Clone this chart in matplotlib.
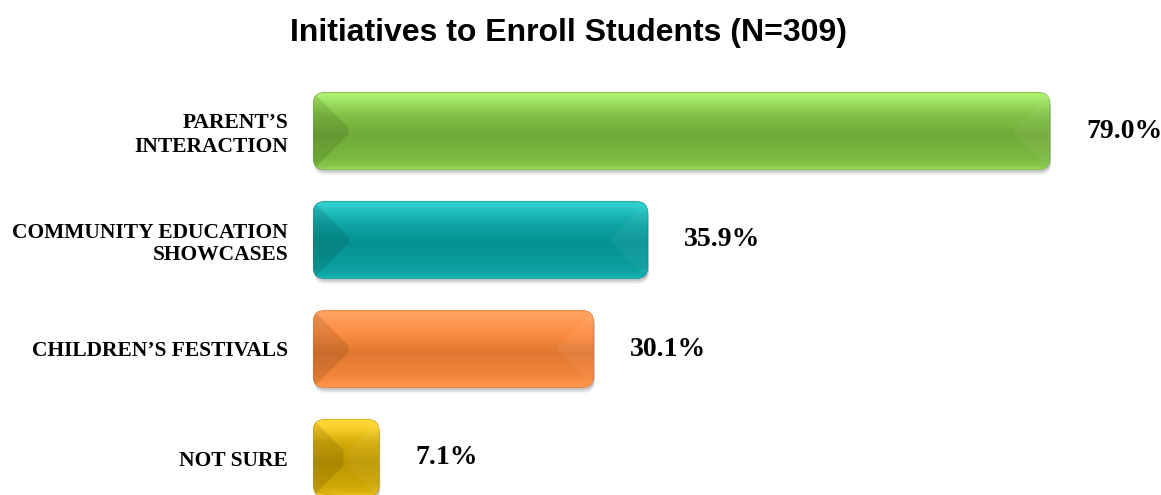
import numpy as np
import matplotlib.pyplot as plt
from matplotlib.patches import FancyBboxPatch, Polygon
from matplotlib.colors import to_rgb, rgb_to_hsv, hsv_to_rgb

# data
categories = ["PARENT\u2019S\nINTERACTION", "COMMUNITY EDUCATION\nSHOWCASES",
              "CHILDREN\u2019S FESTIVALS", "NOT SURE"]
values = [79.0, 35.9, 30.1, 7.1]
value_labels = ["79.0%", "35.9%", "30.1%", "7.1%"]
bar_colors = ["#74B23A", "#069898", "#EA7D33", "#C59E00"]
title = "Initiatives to Enroll Students (N=309)"

W, H = 1161, 495
fig = plt.figure(figsize=(W / 100, H / 100), dpi=100)
ax = fig.add_axes([313 / W, 0, (W - 313) / W, (H - 80) / H])
ax.set_xlim(0, (W - 313) / 9.33)
ax.set_ylim((H - 131) / 109, -(131 - 80) / 109)


def shade(c, amt):
    # amt > 0 brightens (keeping colour), amt < 0 darkens
    h, s, v = rgb_to_hsv(np.array(to_rgb(c)))
    if amt >= 0:
        v = min(1.0, v * (1 + amt))
        s = s * (1 - 0.6 * amt)
    else:
        v = v * (1 + amt)
    return hsv_to_rgb(np.array([h, s, v]))


bars = ax.barh(range(len(values)), values, height=0.71, color="none")

# pixel size of one data unit
p0 = ax.transData.transform((0, 0))
p1 = ax.transData.transform((1, 1))
pxx, pxy = abs(p1[0] - p0[0]), abs(p1[1] - p0[1])
aspect = pxx / pxy

for bar, col, lab in zip(bars, bar_colors, value_labels):
    x0, y0 = bar.get_x(), bar.get_y()
    w, h = bar.get_width(), bar.get_height()
    x1, y1 = x0 + w, y0 + h
    r = 12 / pxx
    style = f"round,pad=0,rounding_size={r}"

    # soft shadow
    for k, a in enumerate([0.10, 0.07, 0.05]):
        off = (2.5 + 1.5 * k) / pxy
        sh = FancyBboxPatch((x0 + 1 / pxx, y0 + off), w, h, boxstyle=style,
                            mutation_aspect=aspect, fc="#000000", ec="none",
                            alpha=a, zorder=1)
        ax.add_patch(sh)

    body = FancyBboxPatch((x0, y0), w, h, boxstyle=style,
                          mutation_aspect=aspect, fc=col, ec="none", zorder=2)
    ax.add_patch(body)

    # vertical gradient (top -> bottom)
    t = np.linspace(0, 1, 300)
    stops_t = [0, 0.04, 0.12, 0.3, 0.55, 0.85, 0.95, 1]
    stops_a = [0.30, 0.36, 0.26, 0.08, -0.04, 0.04, 0.12, 0.25]
    stops_c = [shade(col, a) for a in stops_a]
    grad = np.zeros((len(t), 1, 3))
    for ch in range(3):
        grad[:, 0, ch] = np.interp(t, stops_t, [c[ch] for c in stops_c])
    im = ax.imshow(grad, extent=(x0, x1, y1, y0), origin="upper",
                   aspect="auto", zorder=3, interpolation="bilinear")
    im.set_clip_path(body)

    # bevel faces at the ends
    b_px = min(w * pxx, h * pxy) * 0.46
    bx, by = b_px / pxx, b_px / pxy
    left = Polygon([(x0, y0), (x0 + bx, y0 + by), (x0 + bx, y1 - by), (x0, y1)],
                   closed=True, fc="#000000", ec="none", alpha=0.10, zorder=4)
    right = Polygon([(x1, y0), (x1 - bx, y0 + by), (x1 - bx, y1 - by), (x1, y1)],
                    closed=True, fc="#ffffff", ec="none", alpha=0.05, zorder=4)
    for p in (left, right):
        ax.add_patch(p)
        p.set_clip_path(body)

    edge = FancyBboxPatch((x0, y0), w, h, boxstyle=style, mutation_aspect=aspect,
                          fc="none", ec=shade(col, -0.2), lw=0.6,
                          alpha=0.4, zorder=5)
    ax.add_patch(edge)

    ax.annotate(lab, (x1, y0 + h / 2), xytext=(26, 0), textcoords="offset points",
                ha="left", va="center", fontsize=20, fontweight="bold",
                family="Liberation Serif", annotation_clip=False)

ax.set_yticks(range(len(categories)))
ax.set_yticklabels(categories, fontsize=15.5, fontweight="bold",
                   family="Liberation Serif", linespacing=1.2)
ax.tick_params(axis="y", length=0, pad=18)
ax.set_xticks([])
for s in ax.spines.values():
    s.set_visible(False)
ax.patch.set_alpha(0)

fig.text(569 / W, 1 - 33 / H, title, ha="center", va="center", fontsize=23,
         fontweight="bold", family="Liberation Sans")

fig.savefig("out.png", dpi=100)
